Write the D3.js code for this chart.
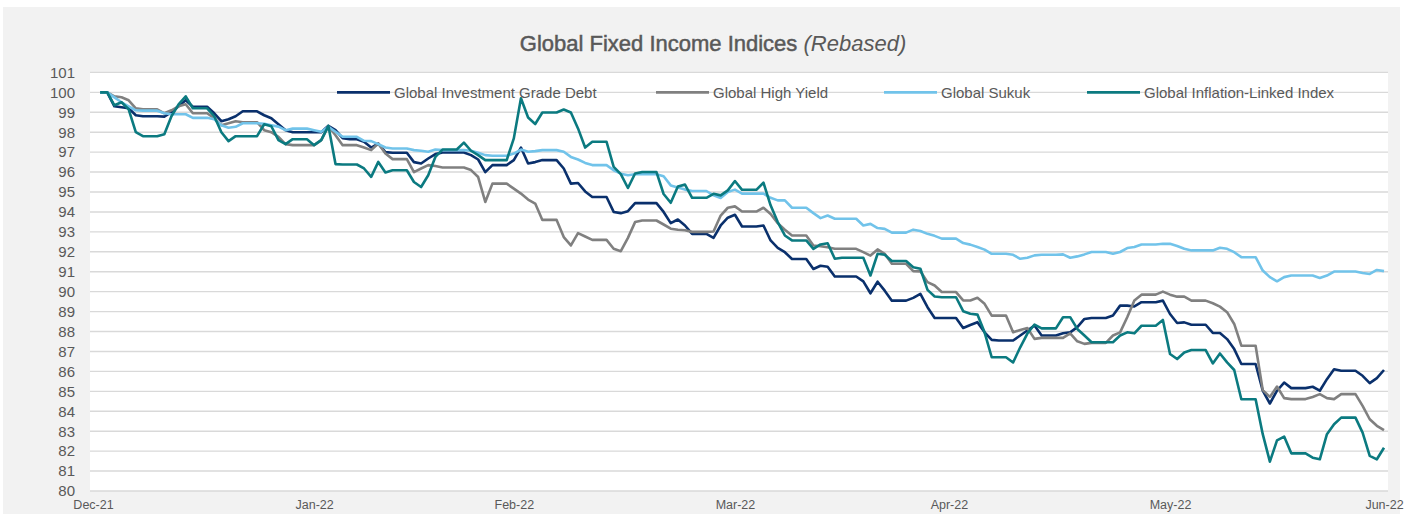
<!DOCTYPE html>
<html>
<head>
<meta charset="utf-8">
<script src="https://cdn.jsdelivr.net/npm/d3@7"></script>
<style>
  body { margin: 0; background: #ffffff; }
  svg text { font-family: "Liberation Sans", Arial, sans-serif; }
</style>
</head>
<body>
<div id="chart"></div>
<script>
// series names (legend order)
const seriesNames = [
    "Global Investment Grade Debt",
    "Global High Yield",
    "Global Sukuk",
    "Global Inflation-Linked Index"
];

// daily values, 1 Jan 2022 -> 30 Jun 2022 (weekends carry Friday's close)
const investmentGrade = [
    100, 100, 99.3, 99.25, 99.2, 98.85, 98.8, 98.8, 98.8, 98.78,
    99.0, 99.3, 99.6, 99.28, 99.28, 99.28, 98.95, 98.55, 98.65, 98.8,
    99.05, 99.05, 99.05, 98.85, 98.7, 98.4, 98.1, 98.0, 98.0, 98.0,
    98.0, 98.0, 98.32, 98.1, 97.7, 97.65, 97.65, 97.52, 97.23, 97.43,
    97.0, 96.97, 96.97, 96.97, 96.5, 96.43, 96.68, 96.9, 96.98, 96.98,
    96.98, 96.98, 96.85, 96.63, 96.0, 96.35, 96.35, 96.35, 96.6, 97.23,
    96.43, 96.5, 96.6, 96.6, 96.6, 96.18, 95.42, 95.45, 95.03, 94.75,
    94.75, 94.75, 94.0, 93.94, 94.04, 94.44, 94.44, 94.44, 94.44, 94.0,
    93.44, 93.62, 93.32, 92.9, 92.9, 92.9, 92.7, 93.32, 93.71, 93.86,
    93.27, 93.27, 93.27, 93.32, 92.57, 92.2, 91.98, 91.64, 91.64, 91.64,
    91.14, 91.3, 91.25, 90.76, 90.76, 90.76, 90.76, 90.52, 89.92, 90.5,
    90.05, 89.55, 89.55, 89.55, 89.69, 89.89, 89.22, 88.68, 88.68, 88.68,
    88.68, 88.18, 88.33, 88.47, 87.96, 87.58, 87.55, 87.55, 87.55, 87.8,
    88.05, 88.3, 87.8, 87.8, 87.8, 87.91, 87.96, 88.22, 88.63, 88.68,
    88.68, 88.68, 88.8, 89.3, 89.3, 89.26, 89.47, 89.47, 89.47, 89.55,
    88.88, 88.43, 88.46, 88.34, 88.34, 88.34, 87.93, 87.93, 87.62, 87.12,
    86.37, 86.37, 86.37, 85.03, 84.39, 85.03, 85.44, 85.16, 85.16, 85.16,
    85.23, 85.03, 85.61, 86.11, 86.03, 86.03, 86.03, 85.78, 85.41, 85.66, 86.07
];

const highYield = [
    100, 100, 99.8, 99.75, 99.6, 99.2, 99.15, 99.15, 99.15, 98.95,
    99.1, 99.3, 99.4, 98.95, 98.95, 98.95, 98.7, 98.35, 98.45, 98.55,
    98.5, 98.5, 98.5, 98.1, 98.0, 97.77, 97.4, 97.35, 97.35, 97.35,
    97.35, 97.6, 98.3, 97.85, 97.35, 97.35, 97.35, 97.23, 97.1, 97.43,
    96.93, 96.65, 96.65, 96.65, 96.0, 96.18, 96.35, 96.3, 96.23, 96.23,
    96.23, 96.23, 96.1, 95.75, 94.5, 95.42, 95.42, 95.42, 95.17, 94.92,
    94.62, 94.42, 93.6, 93.6, 93.6, 92.74, 92.32, 92.94, 92.77, 92.6,
    92.6, 92.6, 92.15, 92.03, 92.7, 93.49, 93.57, 93.57, 93.57, 93.37,
    93.16, 93.11, 93.08, 93.0, 93.0, 93.0, 93.02, 93.82, 94.21, 94.28,
    94.02, 94.02, 94.02, 94.21, 93.9, 93.44, 93.11, 92.82, 92.82, 92.82,
    92.32, 92.28, 92.23, 92.15, 92.15, 92.15, 92.15, 91.98, 91.81, 92.12,
    91.9, 91.4, 91.4, 91.4, 91.03, 91.02, 90.48, 90.31, 89.98, 89.98,
    89.98, 89.56, 89.56, 89.69, 89.39, 88.8, 88.8, 88.8, 87.96, 88.08,
    88.18, 87.63, 87.68, 87.68, 87.68, 87.68, 87.91, 87.51, 87.38, 87.43,
    87.43, 87.43, 87.8, 87.96, 88.72, 89.56, 89.85, 89.85, 89.85, 90.0,
    89.85, 89.75, 89.75, 89.55, 89.55, 89.55, 89.42, 89.25, 88.97, 88.38,
    87.29, 87.29, 87.29, 85.06, 84.72, 85.24, 84.66, 84.61, 84.61, 84.61,
    84.72, 84.86, 84.66, 84.61, 84.86, 84.86, 84.86, 84.27, 83.6, 83.27, 83.05
];

const sukuk = [
    100, 100, 99.75, 99.5, 99.3, 99.1, 99.08, 99.08, 99.08, 98.95,
    98.9, 98.9, 98.9, 98.72, 98.72, 98.72, 98.65, 98.35, 98.22, 98.27,
    98.45, 98.45, 98.45, 98.42, 98.35, 98.28, 98.1, 98.18, 98.18, 98.18,
    98.1, 98.02, 98.27, 98.02, 97.77, 97.77, 97.77, 97.57, 97.55, 97.4,
    97.23, 97.18, 97.18, 97.18, 97.1, 97.07, 97.02, 97.13, 97.1, 97.1,
    97.1, 97.1, 97.07, 96.97, 96.85, 96.82, 96.82, 96.82, 96.93, 97.13,
    97.02, 97.05, 97.1, 97.1, 97.1, 97.02, 96.76, 96.63, 96.46, 96.35,
    96.35, 96.35, 96.09, 95.92, 95.84, 95.89, 95.89, 95.89, 95.89, 95.79,
    95.33, 95.22, 95.12, 95.05, 95.05, 95.05, 94.83, 94.7, 95.0, 95.12,
    94.92, 94.92, 94.92, 94.92, 94.71, 94.58, 94.58, 94.21, 94.21, 94.21,
    93.94, 93.69, 93.82, 93.66, 93.66, 93.66, 93.66, 93.32, 93.4, 93.19,
    93.15, 92.96, 92.96, 92.96, 93.11, 93.04, 92.9, 92.8, 92.66, 92.66,
    92.66, 92.44, 92.36, 92.24, 92.11, 91.9, 91.9, 91.9, 91.85, 91.65,
    91.7, 91.82, 91.85, 91.85, 91.85, 91.87, 91.7, 91.77, 91.87, 91.99,
    91.99, 91.99, 91.9, 91.99, 92.19, 92.24, 92.37, 92.37, 92.37, 92.4,
    92.4, 92.29, 92.15, 92.07, 92.07, 92.07, 92.07, 92.2, 92.15, 91.98,
    91.73, 91.73, 91.73, 91.06, 90.73, 90.52, 90.73, 90.81, 90.81, 90.81,
    90.81, 90.69, 90.81, 91.01, 91.01, 91.01, 91.01, 90.94, 90.89, 91.09, 91.03
];

const inflationLinked = [
    100, 100, 99.35, 99.5, 99.15, 98.0, 97.8, 97.8, 97.8, 97.9,
    98.8, 99.4, 99.8, 99.2, 99.2, 99.2, 98.8, 98.0, 97.55, 97.8,
    97.8, 97.8, 97.8, 98.4, 98.3, 97.6, 97.4, 97.65, 97.65, 97.65,
    97.35, 97.6, 98.32, 96.4, 96.38, 96.38, 96.38, 96.18, 95.76, 96.51,
    95.98, 96.09, 96.09, 96.09, 95.5, 95.25, 95.84, 96.76, 97.13, 97.13,
    97.13, 97.48, 97.07, 96.85, 96.6, 96.6, 96.6, 96.6, 97.69, 99.7,
    98.74, 98.41, 98.99, 98.99, 98.99, 99.14, 98.99, 98.19, 97.23, 97.52,
    97.52, 97.52, 96.26, 95.9, 95.2, 95.93, 96.0, 96.0, 96.0, 94.9,
    94.46, 95.28, 95.37, 94.71, 94.71, 94.71, 94.91, 94.83, 95.08, 95.55,
    95.11, 95.11, 95.11, 95.47, 94.33, 93.49, 92.82, 92.57, 92.57, 92.57,
    92.15, 92.37, 92.43, 91.65, 91.7, 91.7, 91.7, 91.7, 90.81, 91.9,
    91.85, 91.54, 91.54, 91.54, 91.23, 91.15, 90.09, 89.76, 89.72, 89.72,
    89.72, 89.02, 88.89, 88.85, 87.96, 86.71, 86.71, 86.71, 86.45, 87.21,
    87.9, 88.35, 88.16, 88.16, 88.16, 88.72, 88.72, 88.13, 87.8, 87.46,
    87.46, 87.46, 87.46, 87.8, 87.96, 87.91, 88.29, 88.29, 88.29, 88.58,
    86.87, 86.62, 86.95, 87.07, 87.07, 87.07, 86.4, 86.9, 86.45, 86.07,
    84.6, 84.6, 84.6, 82.85, 81.47, 82.54, 82.73, 81.89, 81.89, 81.89,
    81.67, 81.59, 82.85, 83.35, 83.68, 83.68, 83.68, 82.93, 81.76, 81.59, 82.17
];

// x-axis tick dates (month ends) and y-axis ticks
const tickDates = ["2021-12-31", "2022-01-31", "2022-02-28", "2022-03-31", "2022-04-30", "2022-05-31", "2022-06-30"];
const yTicks = d3.range(80, 102);

const W = 1409, H = 514;
const colors = ["#0a306c", "#808080", "#71c3ea", "#0b7a80"];
const allSeries = [investmentGrade, highYield, sukuk, inflationLinked];

// dates for every daily value
const dates = d3.timeDay.range(new Date(2022, 0, 1), new Date(2022, 6, 1));
const parse = d3.timeParse("%Y-%m-%d");

const svg = d3.select("#chart").append("svg")
    .attr("width", W)
    .attr("height", H);

// chart background
svg.append("rect")
    .attr("x", 3).attr("y", 7)
    .attr("width", 1397).attr("height", H - 7)
    .attr("fill", "#f2f2f2");

const x = d3.scaleTime()
    .domain([parse(tickDates[0]), parse(tickDates[tickDates.length - 1])])
    .range([93, 1384]);

const y = d3.scaleLinear()
    .domain([80, 101])
    .range([491, 72.4]);

// plot area
svg.append("rect")
    .attr("x", 90).attr("y", y(101))
    .attr("width", 1388 - 90).attr("height", y(80) - y(101))
    .attr("fill", "#ffffff");

// gridlines
svg.append("g")
    .selectAll("line")
    .data(yTicks)
    .join("line")
    .attr("x1", 90).attr("x2", 1388)
    .attr("y1", d => y(d)).attr("y2", d => y(d))
    .attr("stroke", "#d9d9d9")
    .attr("stroke-width", 1.4);

// y axis labels
const yAxis = svg.append("g")
    .attr("transform", "translate(90,0)")
    .call(d3.axisLeft(y).tickValues(yTicks).tickSize(0).tickPadding(15).tickFormat(d3.format("d")));
yAxis.select(".domain").remove();
yAxis.selectAll("text")
    .attr("fill", "#595959")
    .style("font-size", "15px");

// x axis labels
const xAxis = svg.append("g")
    .attr("transform", "translate(0,491)")
    .call(d3.axisBottom(x).tickValues(tickDates.map(parse)).tickSize(0).tickPadding(9).tickFormat(d3.timeFormat("%b-%y")));
xAxis.select(".domain").remove();
xAxis.selectAll("text")
    .attr("fill", "#595959")
    .style("font-size", "12.5px");

// lines
const line = d3.line()
    .x((d, i) => x(dates[i]))
    .y(d => y(d));

svg.append("g")
    .selectAll("path")
    .data(allSeries)
    .join("path")
    .attr("d", line)
    .attr("fill", "none")
    .attr("stroke", (d, i) => colors[i])
    .attr("stroke-width", 2.6)
    .attr("stroke-linejoin", "round");

// legend
const legendX = [337, 656, 884, 1087];
const legend = svg.append("g")
    .selectAll("g")
    .data(seriesNames)
    .join("g")
    .attr("transform", (d, i) => `translate(${legendX[i]},${y(100)})`);

legend.append("line")
    .attr("x1", 0).attr("x2", 53)
    .attr("stroke", (d, i) => colors[i])
    .attr("stroke-width", 2.6);

legend.append("text")
    .attr("x", 57)
    .attr("dy", "0.36em")
    .attr("fill", "#595959")
    .style("font-size", "15px")
    .text(d => d);

// title (slightly heavier stroke to mimic medium weight)
const title = svg.append("text")
    .attr("x", 713)
    .attr("y", 51)
    .attr("text-anchor", "middle")
    .attr("fill", "#595959")
    .style("font-size", "22px");
title.append("tspan")
    .attr("stroke", "#595959")
    .attr("stroke-width", 0.5)
    .text("Global Fixed Income Indices ");
title.append("tspan").style("font-style", "italic").text("(Rebased)");
</script>
</body>
</html>
